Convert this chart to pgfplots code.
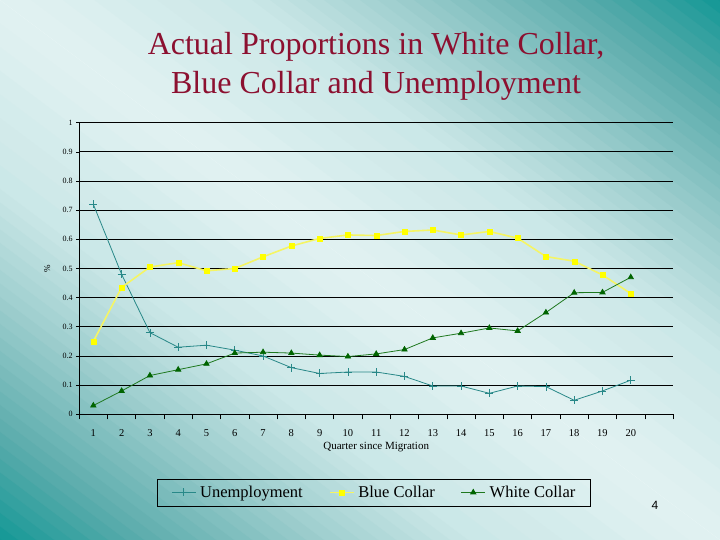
\documentclass[border=0pt]{standalone}
\usepackage{fontspec}
\setmainfont{Liberation Serif}
\newfontfamily\arialfont{Liberation Sans}
\usepackage{pgfplots}
\pgfplotsset{compat=1.18}

\definecolor{titlered}{RGB}{140,16,48}
\definecolor{unemp}{RGB}{40,136,136}
\definecolor{bcmark}{RGB}{255,255,0}
\definecolor{bcline}{RGB}{245,245,100}
\definecolor{wcmark}{RGB}{0,100,0}
\definecolor{wcline}{RGB}{30,120,30}
% background gradient stops, light diagonal -> teal corners
\definecolor{bgA}{RGB}{226,242,242}
\definecolor{bgB}{RGB}{202,231,231}
\definecolor{bgC}{RGB}{158,206,206}
\definecolor{bgD}{RGB}{92,172,172}
\definecolor{bgE}{RGB}{20,152,150}

% strips of a linear gradient, mirrored on both sides of the diagonal
\newcommand\bgseg[5]{%
  \foreach \k in {1,...,#5}{
    \pgfmathsetmacro\ta{#1+(#2-#1)*(\k-1)/#5}
    \pgfmathsetmacro\tb{#1+(#2-#1)*\k/#5+0.003}
    \pgfmathsetmacro\pc{100*(\k-0.5)/#5}
    \colorlet{bgc}{#4!\pc!#3}
    \fill[bgc] (-500,\ta*432) rectangle (500,\tb*432);
    \fill[bgc] (-500,-\ta*432) rectangle (500,-\tb*432);
  }}

\begin{document}
\begin{tikzpicture}[x=1pt,y=1pt]
  % slide background
  \begin{scope}
    \clip (0,0) rectangle (720,540);
    \begin{scope}[shift={(360,270)}, rotate=-36.87]
      \bgseg{0}{0.35}{bgA}{bgB}{8}
      \bgseg{0.35}{0.55}{bgB}{bgC}{8}
      \bgseg{0.55}{0.8}{bgC}{bgD}{10}
      \bgseg{0.8}{1.0}{bgD}{bgE}{8}
      \fill[bgE] (-500,431) rectangle (500,700);
      \fill[bgE] (-500,-431) rectangle (500,-700);
    \end{scope}
  \end{scope}
  \node[font=\fontsize{32}{39}\selectfont, text=titlered, align=center]
    at (376,474) {Actual Proportions in White Collar,\\Blue Collar and Unemployment};
  \node[font=\arialfont\fontsize{12}{14}\selectfont] at (655,35) {4};

  \begin{axis}[
    at={(79.2pt,125.7pt)}, anchor=south west,
    width=594pt, height=291.6pt, scale only axis,
    xmin=0.5, xmax=21.5, ymin=0, ymax=1,
    axis lines*=left,
    axis line style={black, line width=0.8pt},
    xtick={1,...,20},
    major x tick style={draw=none},
    minor xtick={0.5,1.5,...,21.5},
    minor tick length=5pt,
    tick align=outside,
    ytick={0,0.1,0.2,0.3,0.4,0.5,0.6,0.7,0.8,0.9,1},
    major tick length=3pt,
    tick style={black, line width=0.7pt},
    ymajorgrids, grid style={black, line width=0.8pt},
    /pgf/number format/assume math mode=true,
    yticklabel style={font=\fontsize{8}{9}\selectfont,
      /pgf/number format/fixed, /pgf/number format/precision=1},
    xticklabel style={font=\fontsize{10.5}{12}\selectfont, yshift=-9pt},
    xlabel={Quarter since Migration},
    xlabel style={font=\fontsize{11}{12}\selectfont,
      at={(axis description cs:0.5,-0.113)}, anchor=center},
    ylabel={\%},
    ylabel style={font=\fontsize{9}{10}\selectfont,
      at={(axis description cs:-0.054,0.5)}, anchor=center},
    legend columns=3,
    legend style={at={(0.496,-0.268)}, anchor=center,
      draw=black, line width=0.8pt, fill=none,
      font=\fontsize{16.5}{18}\selectfont,
      inner xsep=14pt, inner ysep=6pt,
      nodes={inner sep=1pt},
      /tikz/every odd column/.append style={column sep=3pt},
      /tikz/every even column/.append style={column sep=25pt}},
    legend image code/.code={
      \draw[mark repeat=2, mark phase=2, #1]
        plot coordinates {(0pt,0pt) (12pt,0pt) (24pt,0pt)};}
  ]
    \addplot[color=unemp, line width=0.8pt, mark=+, mark size=4pt,
      mark options={line width=0.8pt}] coordinates {
      (1,0.72) (2,0.48) (3,0.28) (4,0.23) (5,0.237) (6,0.22) (7,0.20)
      (8,0.16) (9,0.14) (10,0.145) (11,0.145) (12,0.13) (13,0.097)
      (14,0.097) (15,0.072) (16,0.097) (17,0.095) (18,0.048) (19,0.08)
      (20,0.117)};
    \addlegendentry{Unemployment}
    \addplot[color=bcline, line width=1.6pt, mark=square*, mark size=2.5pt,
      mark options={fill=bcmark, draw=bcmark, line width=0.4pt}] coordinates {
      (1,0.25) (2,0.435) (3,0.505) (4,0.52) (5,0.492) (6,0.50) (7,0.54)
      (8,0.577) (9,0.603) (10,0.615) (11,0.613) (12,0.627) (13,0.632)
      (14,0.615) (15,0.627) (16,0.604) (17,0.541) (18,0.525) (19,0.478)
      (20,0.414)};
    \addlegendentry{Blue Collar}
    \addplot[color=wcline, line width=0.8pt, mark=triangle*, mark size=3pt,
      mark options={fill=wcmark, draw=wcmark}] coordinates {
      (1,0.03) (2,0.08) (3,0.133) (4,0.153) (5,0.173) (6,0.21) (7,0.213)
      (8,0.21) (9,0.203) (10,0.198) (11,0.207) (12,0.222) (13,0.262)
      (14,0.278) (15,0.296) (16,0.286) (17,0.349) (18,0.417) (19,0.418)
      (20,0.47)};
    \addlegendentry{White Collar}
  \end{axis}
  \pgfresetboundingbox
  \useasboundingbox (0,0) rectangle (720,540);
\end{tikzpicture}
\end{document}
